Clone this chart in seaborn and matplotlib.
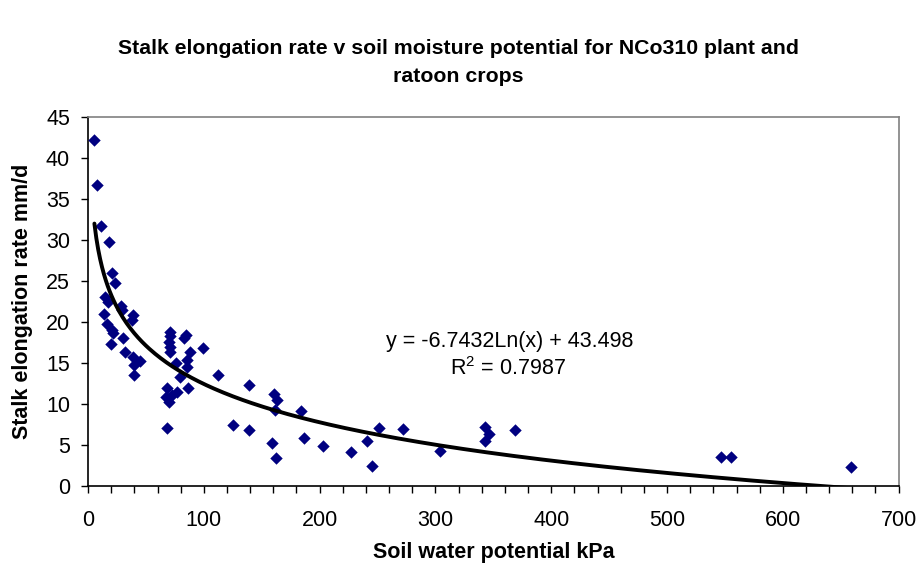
import numpy as np
import pandas as pd
import matplotlib
matplotlib.use("Agg")
import matplotlib.pyplot as plt
import seaborn as sns
from matplotlib.ticker import MultipleLocator

# Data
soil_kpa = [5.5, 7.8, 11.0, 18.1, 21.0, 23.0, 14.7, 17.0, 28.2, 29.7, 13.8, 39.2, 37.8, 16.1,
            20.5, 21.9, 30.0, 19.6, 32.3, 39.2, 45.0, 39.8, 40.0,
            70.9, 70.9, 70.3, 70.9, 71.0, 84.7, 83.2, 99.7, 88.2, 85.3, 76.0, 85.3, 79.5, 86.0,
            68.5, 76.7, 67.4, 72.3, 70.3, 68.5, 112.6,
            125.6, 138.6, 139.2, 158.8, 160.2, 163.0, 161.6, 162.5, 184.1, 186.1, 202.5, 227.0,
            240.8, 245.2, 251.5, 271.7, 303.6, 343.1, 346.6, 343.1, 368.5, 547.0, 554.9, 659.2]
elong_rate = [42.2, 36.7, 31.7, 29.8, 26.0, 24.8, 23.1, 22.4, 21.9, 21.5, 21.0, 20.9, 20.2, 19.8,
              19.0, 18.6, 18.0, 17.3, 16.3, 15.7, 15.3, 14.8, 13.5,
              18.8, 18.3, 17.6, 17.0, 16.4, 18.4, 18.0, 16.8, 16.4, 15.4, 15.0, 14.5, 13.3, 12.0,
              11.9, 11.5, 10.9, 11.1, 10.3, 7.1, 13.5,
              7.5, 12.3, 6.8, 5.3, 11.2, 10.5, 9.3, 3.4, 9.2, 5.9, 4.9, 4.1,
              5.5, 2.5, 7.1, 7.0, 4.3, 7.2, 6.3, 5.5, 6.8, 3.5, 3.5, 2.3]

# Trendline coefficients shown on the chart
trend_slope = -6.7432
trend_intercept = 43.498
equation_text = "y = -6.7432Ln(x) + 43.498"
r2_text = "R$^2$ = 0.7987"

title_text = "Stalk elongation rate v soil moisture potential for NCo310 plant and\nratoon crops"
x_label = "Soil water potential kPa"
y_label = "Stalk elongation rate mm/d"

sns.set_style("white")
plt.rcParams["font.family"] = ["Liberation Sans", "DejaVu Sans"]
plt.rcParams["text.color"] = "black"
plt.rcParams["axes.labelcolor"] = "black"
plt.rcParams["xtick.color"] = "black"
plt.rcParams["ytick.color"] = "black"
plt.rcParams["mathtext.fontset"] = "custom"
plt.rcParams["mathtext.rm"] = "Liberation Sans"

df = pd.DataFrame({"kpa": soil_kpa, "rate": elong_rate})
trend_x = np.linspace(min(soil_kpa), max(soil_kpa), 400)
trend_df = pd.DataFrame({"kpa": trend_x, "rate": trend_slope * np.log(trend_x) + trend_intercept})

fig = plt.figure(figsize=(9.17, 5.66), dpi=100)
ax = fig.add_axes([0.096, 0.1413, 0.884, 0.652])

sns.scatterplot(data=df, x="kpa", y="rate", marker="D", s=40, color="#000080",
                edgecolor="#000080", linewidth=0, ax=ax, zorder=3)
sns.lineplot(data=trend_df, x="kpa", y="rate", color="black", linewidth=2.8, ax=ax, zorder=4)

ax.set_xlim(0, 700)
ax.set_ylim(0, 45)
ax.xaxis.set_major_locator(MultipleLocator(100))
ax.xaxis.set_minor_locator(MultipleLocator(20))
ax.yaxis.set_major_locator(MultipleLocator(5))
ax.tick_params(axis="both", which="both", direction="out", length=5, width=1, color="black",
               labelsize=15.5, bottom=True, left=True)
ax.tick_params(axis="x", which="major", pad=12)
ax.tick_params(axis="y", which="major", pad=8)

for side in ["left", "bottom"]:
    ax.spines[side].set_color("black")
    ax.spines[side].set_linewidth(1.2)
for side in ["top", "right"]:
    ax.spines[side].set_color("#808080")
    ax.spines[side].set_linewidth(1.2)

ax.set_xlabel(x_label, fontsize=15.5, fontweight="bold", labelpad=8)
ax.set_ylabel(y_label, fontsize=15.5, fontweight="bold", labelpad=9)

ax.text(364, 17.6, equation_text, fontsize=15.5, ha="center", va="center")
ax.text(363, 14.3, r2_text, fontsize=15.5, ha="center", va="center")

fig.text(0.5, 0.8896, title_text, ha="center", va="center", fontsize=15.3,
         fontweight="bold", linespacing=1.65)

fig.savefig("out.png", dpi=100, facecolor="white")
